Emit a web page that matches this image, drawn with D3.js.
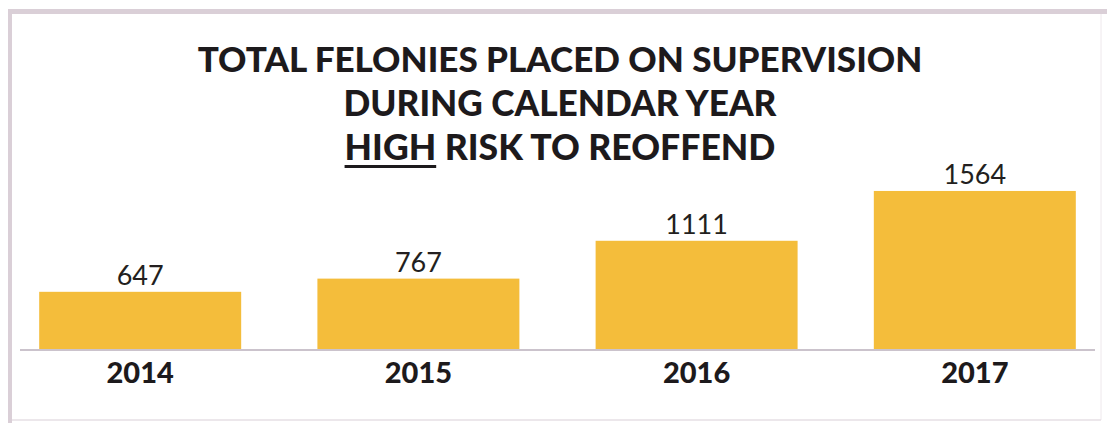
<!DOCTYPE html>
<html>
<head>
<meta charset="utf-8">
<script src="https://cdn.jsdelivr.net/npm/d3@7"></script>
<style>
  body { margin: 0; background: #fff; }
  svg { display: block; }
</style>
</head>
<body>
<svg id="chart"></svg>
<script>
const years = ['2014', '2015', '2016', '2017'];
const felonies = [647, 767, 1111, 1564];
const titleLines = ['TOTAL FELONIES PLACED ON SUPERVISION', 'DURING CALENDAR YEAR', 'RISK TO REOFFEND'];
const underlinedWord = 'HIGH';

const width = 1107, height = 423;

const svg = d3.select('#chart')
    .attr('width', width)
    .attr('height', height);

// scanned page frame
const frame = svg.append('g').attr('stroke', '#dacfd7').attr('fill', 'none');
frame.append('line').attr('x1', 8).attr('x2', 1107).attr('y1', 11.5).attr('y2', 11.5).attr('stroke-width', 5);
frame.append('line').attr('x1', 10).attr('x2', 10).attr('y1', 9).attr('y2', 423).attr('stroke-width', 4);
frame.append('line').attr('x1', 1101).attr('x2', 1101).attr('y1', 14).attr('y2', 420)
    .attr('stroke-width', 1).attr('stroke', '#eee8ec');
frame.append('line').attr('x1', 12).attr('x2', 1101).attr('y1', 420).attr('y2', 420)
    .attr('stroke-width', 1.5).attr('stroke', '#e6dfe4');

// fit a text element to a target width by adjusting its font size
function fit(sel, targetWidth) {
    const w = sel.node().getComputedTextLength();
    const fs = parseFloat(sel.style('font-size'));
    sel.style('font-size', (fs * targetWidth / w) + 'px');
}

const titleFont = 'Lato, "DejaVu Sans", sans-serif';
const cx = 560;

const t1 = svg.append('text')
    .attr('x', cx).attr('y', 72)
    .attr('text-anchor', 'middle')
    .style('font-family', titleFont).style('font-weight', 900)
    .style('font-size', '34px').attr('fill', '#1d1a1c')
    .text(titleLines[0]);
fit(t1, 725);

const t2 = svg.append('text')
    .attr('x', cx).attr('y', 116)
    .attr('text-anchor', 'middle')
    .style('font-family', titleFont).style('font-weight', 900)
    .style('font-size', '34px').attr('fill', '#1d1a1c')
    .text(titleLines[1]);
fit(t2, 433);

const t3 = svg.append('text')
    .attr('x', cx).attr('y', 160)
    .attr('text-anchor', 'middle')
    .style('font-family', titleFont).style('font-weight', 900)
    .style('font-size', '34px').attr('fill', '#1d1a1c');
const hi = t3.append('tspan').text(underlinedWord);
t3.append('tspan').text(' ' + titleLines[2]);
fit(t3, 431);

// underline for the first word
const hb = hi.node().getBBox();
svg.append('rect')
    .attr('x', hb.x).attr('y', 165)
    .attr('width', hb.width).attr('height', 3)
    .attr('fill', '#1d1a1c');

// scales
const x = d3.scaleBand()
    .domain(years)
    .range([20, 1095])
    .paddingInner(0.274)
    .paddingOuter(0.069);

const y = d3.scaleLinear()
    .domain([127, 1600])
    .range([349, 187]);

const data = years.map((yr, i) => ({year: yr, value: felonies[i]}));

svg.append('g').selectAll('rect')
    .data(data)
    .join('rect')
    .attr('x', d => x(d.year))
    .attr('y', d => y(d.value))
    .attr('width', x.bandwidth())
    .attr('height', d => y.range()[0] - y(d.value))
    .attr('fill', '#f4bd3b');

// baseline
svg.append('line')
    .attr('x1', x.range()[0]).attr('x2', x.range()[1])
    .attr('y1', 350).attr('y2', 350)
    .attr('stroke', '#cbc3cc').attr('stroke-width', 2);

// value labels
svg.append('g').selectAll('text')
    .data(data)
    .join('text')
    .attr('x', d => x(d.year) + x.bandwidth() / 2)
    .attr('y', d => y(d.value) - 7)
    .attr('text-anchor', 'middle')
    .style('font-family', 'Lato, sans-serif')
    .style('font-weight', 400)
    .style('font-size', '27px')
    .attr('fill', '#231f20')
    .text(d => d.value);

// year labels (x axis)
const xAxis = svg.append('g')
    .attr('transform', 'translate(0,350)')
    .call(d3.axisBottom(x).tickSize(0).tickPadding(12));
xAxis.select('.domain').remove();
xAxis.selectAll('text')
    .style('font-family', 'Lato, "DejaVu Sans", sans-serif')
    .style('font-weight', 900)
    .style('font-size', '29px')
    .attr('fill', '#1d1a1c')
    .attr('dy', '0.71em');
</script>
</body>
</html>
